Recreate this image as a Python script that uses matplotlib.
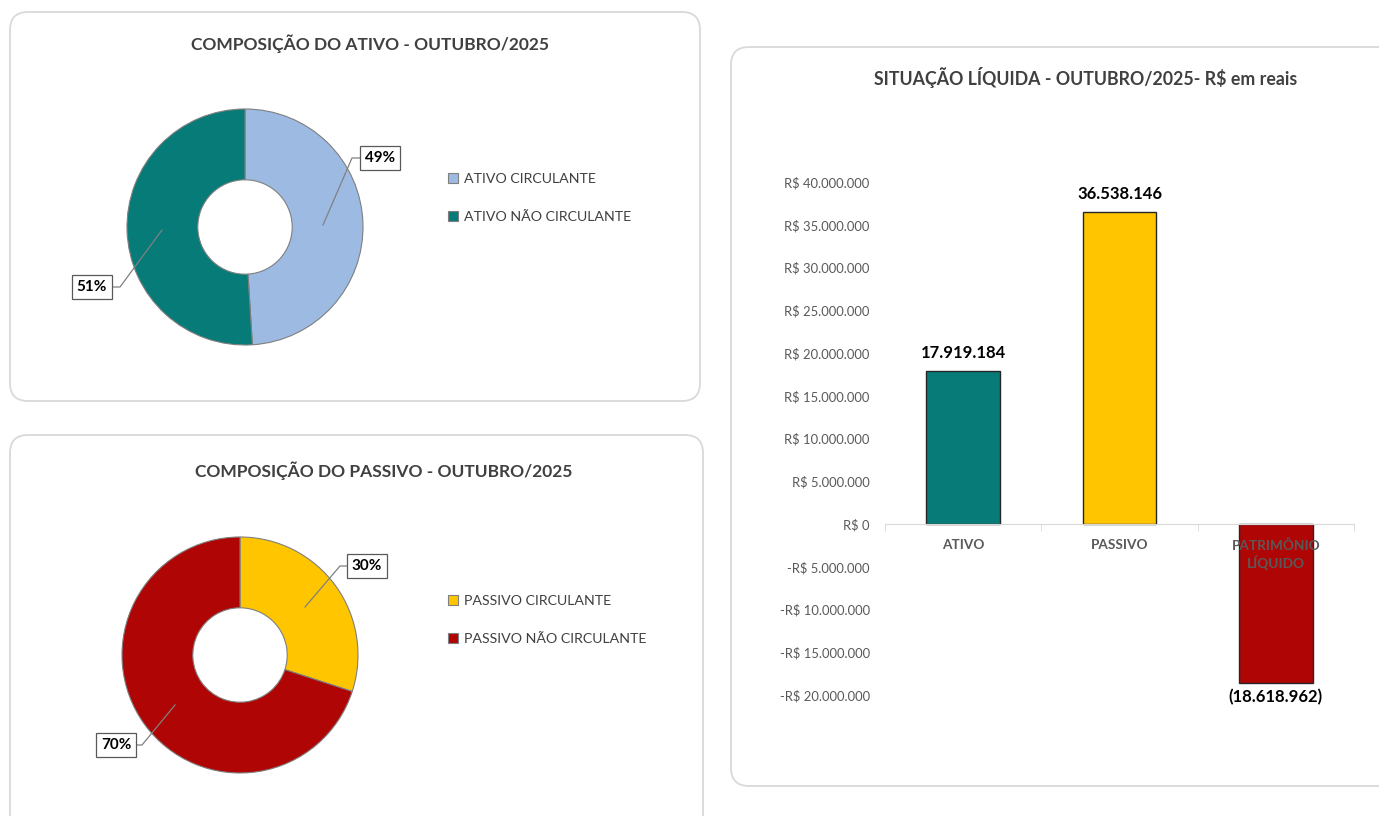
import matplotlib
matplotlib.use("Agg")
import numpy as np
import matplotlib.pyplot as plt
from matplotlib.patches import FancyBboxPatch
from matplotlib.transforms import IdentityTransform

# data
ativo_labels = ["ATIVO CIRCULANTE", "ATIVO NÃO CIRCULANTE"]
ativo_pct = [49, 51]
ativo_colors = ["#9DBBE2", "#077B78"]

passivo_labels = ["PASSIVO CIRCULANTE", "PASSIVO NÃO CIRCULANTE"]
passivo_pct = [30, 70]
passivo_colors = ["#FFC600", "#B00505"]

sit_cats = ["ATIVO", "PASSIVO", "PATRIMÔNIO\nLÍQUIDO"]
sit_vals = [17919184, 36538146, -18618962]
sit_colors = ["#077B78", "#FFC600", "#B00505"]
sit_ticks = list(range(-20000000, 40000001, 5000000))

W, H = 1379, 816
plt.rcParams['font.family'] = ['Lato', 'DejaVu Sans']
plt.rcParams['text.parse_math'] = False

fig = plt.figure(figsize=(W / 100, H / 100), dpi=100)


def fx(x):
    return x / W


def fy(y):
    return 1 - y / H


def panel(x0, y0, x1, y1):
    p = FancyBboxPatch((x0, H - y1), x1 - x0, y1 - y0,
                       boxstyle="round,pad=0,rounding_size=18",
                       transform=IdentityTransform(), facecolor="white",
                       edgecolor="#D9D9D9", lw=1.3, zorder=-5)
    fig.patches.append(p)


panel(10, 12, 700, 401)
panel(10, 435, 703, 840)
panel(731, 47, 1400, 786)

fig.text(fx(370), fy(44), "COMPOSIÇÃO DO ATIVO - OUTUBRO/2025", ha='center', va='center',
         fontsize=12.5, fontweight='bold', color='#404040')
fig.text(fx(384), fy(471), "COMPOSIÇÃO DO PASSIVO - OUTUBRO/2025", ha='center', va='center',
         fontsize=12.5, fontweight='bold', color='#404040')
fig.text(fx(1086), fy(78), "SITUAÇÃO LÍQUIDA - OUTUBRO/2025- R$ em reais", ha='center', va='center',
         fontsize=12.8, fontweight='bold', color='#404040')


def donut(cx, cy, values, colors, names, boxes, leaders, leg_y):
    r = 118
    hw, hh = 200, 140
    ax = fig.add_axes([fx(cx - hw), fy(cy + hh), 2 * hw / W, 2 * hh / H])
    wedges, _ = ax.pie(values, colors=colors, startangle=90, counterclock=False, radius=1,
                       wedgeprops=dict(width=0.6, edgecolor='#7F7F7F', linewidth=0.8))
    ax.set_xlim(-hw / r, hw / r)
    ax.set_ylim(-hh / r, hh / r)
    ax.axis('off')
    for v, (bx, by), pts in zip(values, boxes, leaders):
        xs = [(p[0] - cx) / r for p in pts]
        ys = [(cy - p[1]) / r for p in pts]
        ax.plot(xs, ys, color='#808080', lw=0.9)
        ax.text((bx - cx) / r, (cy - by) / r, f"{v}%", ha='center', va='center',
                fontsize=11, fontweight='bold', color='black', clip_on=False,
                bbox=dict(boxstyle='square,pad=0.3', fc='white', ec='#595959', lw=0.9))
    leg = ax.legend(wedges, names, loc='upper left', bbox_to_anchor=(fx(442), fy(leg_y)),
                    bbox_transform=fig.transFigure, frameon=False, fontsize=10.2,
                    handlelength=0.7, handleheight=0.7, handletextpad=0.45,
                    labelspacing=1.85, borderaxespad=0)
    for t in leg.get_texts():
        t.set_color('#404040')


donut(245, 227, ativo_pct, ativo_colors, ativo_labels,
      [(380, 158), (92, 287)],
      [[(362, 158), (352, 158), (323, 225)], [(113, 287), (120, 287), (162, 230)]],
      167)
donut(240, 655, passivo_pct, passivo_colors, passivo_labels,
      [(367, 566), (116, 745)],
      [[(348, 566), (340, 566), (305, 607)], [(135, 745), (142, 745), (175, 705)]],
      589)

# bar chart
ax3 = fig.add_axes([fx(885), fy(738), (1354 - 885) / W, (738 - 182) / H])
ax3.patch.set_alpha(0)
x = np.arange(len(sit_cats))
bars = ax3.bar(x, sit_vals, width=0.47, color=sit_colors, edgecolor='#262626', linewidth=1.0, zorder=1)
ax3.set_xlim(-0.5, 2.5)
ax3.set_ylim(-25000000, 40000000)
for s in ['top', 'right', 'left']:
    ax3.spines[s].set_visible(False)
ax3.spines['bottom'].set_position(('data', 0))
ax3.spines['bottom'].set_color('#D9D9D9')
ax3.set_xticks(x)
ax3.set_xticklabels(sit_cats, fontsize=9.8, fontweight='bold', color='#595959', linespacing=1.3)
ax3.set_xticks([-0.5, 0.5, 1.5, 2.5], minor=True)
ax3.tick_params(axis='x', which='major', length=0, pad=11)
ax3.tick_params(axis='x', which='minor', length=5, color='#D9D9D9')
ax3.set_yticks(sit_ticks)
ax3.set_yticklabels([("-" if v < 0 else "") + "R$ " + f"{abs(v):,.0f}".replace(",", ".") for v in sit_ticks],
                    fontsize=9.4, color='#595959')
ax3.tick_params(axis='y', length=0, pad=11)

for b, v in zip(bars, sit_vals):
    txt = f"{abs(v):,.0f}".replace(",", ".")
    if v < 0:
        ax3.annotate(f"({txt})", (b.get_x() + b.get_width() / 2, v), xytext=(0, -4),
                     textcoords='offset points', ha='center', va='top',
                     fontsize=12, fontweight='bold', color='black')
    else:
        ax3.annotate(txt, (b.get_x() + b.get_width() / 2, v), xytext=(0, 7),
                     textcoords='offset points', ha='center', va='bottom',
                     fontsize=12, fontweight='bold', color='black')

fig.savefig("out.png", dpi=100)
